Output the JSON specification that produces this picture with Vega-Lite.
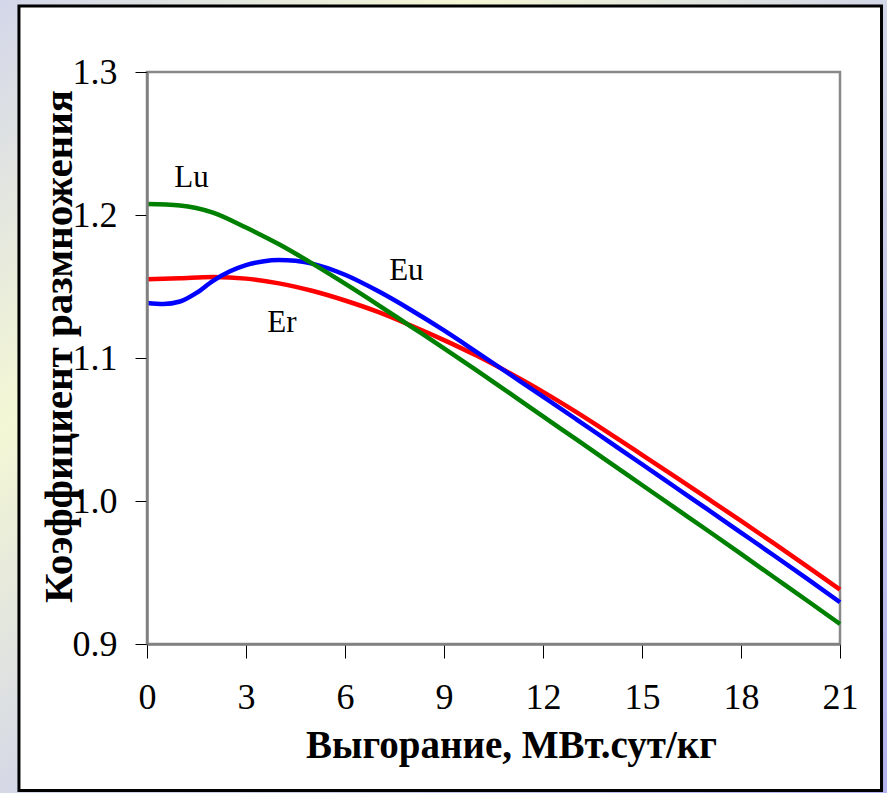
{
  "$schema": "https://vega.github.io/schema/vega-lite/v6.json",
  "width": 693,
  "height": 572,
  "autosize": {"type": "none"},
  "padding": {"left": 147, "top": 72, "right": 47, "bottom": 149},
  "background": "#dcdeea",
  "config": {
    "view": {"stroke": null},
    "font": "Liberation Serif",
    "axis": {
      "grid": false,
      "domainColor": "#808080",
      "domainWidth": 2.5,
      "tickColor": "#000000",
      "tickWidth": 1,
      "labelFont": "Liberation Serif",
      "labelFontSize": 36,
      "labelColor": "#000000",
      "titleFont": "Liberation Serif",
      "titleFontSize": 39,
      "titleFontWeight": "bold",
      "titleColor": "#000000"
    }
  },
  "datasets": {
    "curves": [
      {"series": "Er", "burnup": 0, "k": 1.1550},
      {"series": "Er", "burnup": 1, "k": 1.1558},
      {"series": "Er", "burnup": 2, "k": 1.1566},
      {"series": "Er", "burnup": 3, "k": 1.1555},
      {"series": "Er", "burnup": 4, "k": 1.1522},
      {"series": "Er", "burnup": 5, "k": 1.1470},
      {"series": "Er", "burnup": 6, "k": 1.1402},
      {"series": "Er", "burnup": 7, "k": 1.1322},
      {"series": "Er", "burnup": 8, "k": 1.1227},
      {"series": "Er", "burnup": 9, "k": 1.1125},
      {"series": "Er", "burnup": 10, "k": 1.1015},
      {"series": "Er", "burnup": 11, "k": 1.0893},
      {"series": "Er", "burnup": 12, "k": 1.0763},
      {"series": "Er", "burnup": 13, "k": 1.0623},
      {"series": "Er", "burnup": 14, "k": 1.0475},
      {"series": "Er", "burnup": 15, "k": 1.0323},
      {"series": "Er", "burnup": 16, "k": 1.0170},
      {"series": "Er", "burnup": 17, "k": 1.0016},
      {"series": "Er", "burnup": 18, "k": 0.9861},
      {"series": "Er", "burnup": 19, "k": 0.9703},
      {"series": "Er", "burnup": 20, "k": 0.9543},
      {"series": "Er", "burnup": 21, "k": 0.9380},
      {"series": "Eu", "burnup": 0, "k": 1.1385},
      {"series": "Eu", "burnup": 0.5, "k": 1.1378},
      {"series": "Eu", "burnup": 1, "k": 1.1395},
      {"series": "Eu", "burnup": 1.5, "k": 1.1455},
      {"series": "Eu", "burnup": 2, "k": 1.1540},
      {"series": "Eu", "burnup": 2.5, "k": 1.1605},
      {"series": "Eu", "burnup": 3, "k": 1.1650},
      {"series": "Eu", "burnup": 3.5, "k": 1.1675},
      {"series": "Eu", "burnup": 4, "k": 1.1685},
      {"series": "Eu", "burnup": 4.5, "k": 1.1680},
      {"series": "Eu", "burnup": 5, "k": 1.1660},
      {"series": "Eu", "burnup": 6, "k": 1.1582},
      {"series": "Eu", "burnup": 7, "k": 1.1468},
      {"series": "Eu", "burnup": 8, "k": 1.1336},
      {"series": "Eu", "burnup": 9, "k": 1.1193},
      {"series": "Eu", "burnup": 10, "k": 1.1040},
      {"series": "Eu", "burnup": 11, "k": 1.0885},
      {"series": "Eu", "burnup": 12, "k": 1.0730},
      {"series": "Eu", "burnup": 13, "k": 1.0573},
      {"series": "Eu", "burnup": 14, "k": 1.0415},
      {"series": "Eu", "burnup": 15, "k": 1.0257},
      {"series": "Eu", "burnup": 16, "k": 1.0098},
      {"series": "Eu", "burnup": 17, "k": 0.9939},
      {"series": "Eu", "burnup": 18, "k": 0.9779},
      {"series": "Eu", "burnup": 19, "k": 0.9619},
      {"series": "Eu", "burnup": 20, "k": 0.9457},
      {"series": "Eu", "burnup": 21, "k": 0.9292},
      {"series": "Lu", "burnup": 0, "k": 1.2077},
      {"series": "Lu", "burnup": 1, "k": 1.2067},
      {"series": "Lu", "burnup": 2, "k": 1.2017},
      {"series": "Lu", "burnup": 3, "k": 1.1912},
      {"series": "Lu", "burnup": 4, "k": 1.1795},
      {"series": "Lu", "burnup": 5, "k": 1.1662},
      {"series": "Lu", "burnup": 6, "k": 1.1520},
      {"series": "Lu", "burnup": 7, "k": 1.1372},
      {"series": "Lu", "burnup": 8, "k": 1.1220},
      {"series": "Lu", "burnup": 9, "k": 1.1068},
      {"series": "Lu", "burnup": 10, "k": 1.0912},
      {"series": "Lu", "burnup": 11, "k": 1.0752},
      {"series": "Lu", "burnup": 12, "k": 1.0592},
      {"series": "Lu", "burnup": 13, "k": 1.0432},
      {"series": "Lu", "burnup": 14, "k": 1.0272},
      {"series": "Lu", "burnup": 15, "k": 1.0112},
      {"series": "Lu", "burnup": 16, "k": 0.9952},
      {"series": "Lu", "burnup": 17, "k": 0.9792},
      {"series": "Lu", "burnup": 18, "k": 0.9630},
      {"series": "Lu", "burnup": 19, "k": 0.9467},
      {"series": "Lu", "burnup": 20, "k": 0.9304},
      {"series": "Lu", "burnup": 21, "k": 0.9140}
    ],
    "labels": [
      {"label": "Lu", "burnup": 1.35, "k": 1.2262},
      {"label": "Eu", "burnup": 7.86, "k": 1.1608},
      {"label": "Er", "burnup": 4.09, "k": 1.1248}
    ]
  },
  "layer": [
    {
      "data": {"values": [{}]},
      "mark": {
        "type": "rect",
        "fill": {
          "gradient": "linear",
          "x1": 0, "y1": 0, "x2": 1, "y2": 1,
          "stops": [
            {"offset": 0, "color": "#d2d5ea"},
            {"offset": 0.27, "color": "#f4f7d4"},
            {"offset": 0.5, "color": "#d4d7e6"},
            {"offset": 1, "color": "#b2b2ee"}
          ]
        }
      },
      "encoding": {
        "x": {"datum": -4.6, "type": "quantitative", "scale": {"domain": [0, 21], "nice": false, "zero": false}},
        "x2": {"datum": 22.6},
        "y": {"datum": 1.36, "type": "quantitative", "scale": {"domain": [0.9, 1.3], "nice": false, "zero": false}},
        "y2": {"datum": 0.78}
      }
    },
    {
      "data": {"values": [{}]},
      "mark": {"type": "rect", "fill": "#ffffff", "stroke": "#000000", "strokeWidth": 3},
      "encoding": {
        "x": {"datum": -3.88, "type": "quantitative", "scale": {"domain": [0, 21], "nice": false, "zero": false}},
        "x2": {"datum": 22.258},
        "y": {"datum": 1.3462, "type": "quantitative", "scale": {"domain": [0.9, 1.3], "nice": false, "zero": false}},
        "y2": {"datum": 0.79755}
      }
    },
    {
      "data": {"values": [{}]},
      "mark": {"type": "rect", "fill": null, "fillOpacity": 0, "stroke": "#888888", "strokeWidth": 2.5},
      "encoding": {
        "x": {"datum": 0, "type": "quantitative", "scale": {"domain": [0, 21], "nice": false, "zero": false}},
        "x2": {"datum": 21},
        "y": {"datum": 1.3, "type": "quantitative", "scale": {"domain": [0.9, 1.3], "nice": false, "zero": false}},
        "y2": {"datum": 0.9}
      }
    },
    {
      "data": {"name": "curves"},
      "mark": {"type": "line", "interpolate": "monotone", "strokeWidth": 4.5},
      "encoding": {
        "x": {
          "field": "burnup", "type": "quantitative",
          "scale": {"domain": [0, 21], "nice": false, "zero": false},
          "axis": {
            "zindex": 1,
            "values": [0, 3, 6, 9, 12, 15, 18, 21],
            "labelFont": "Liberation Serif", "labelFontSize": 36,
            "tickSize": 14, "labelPadding": 22, "labelFlush": false, "labelOverlap": false,
            "title": "Выгорание, МВт.сут/кг",
            "titleFont": "Liberation Serif", "titleFontSize": 39,
            "titleX": 364, "titleY": 113, "titleAlign": "center", "titleBaseline": "alphabetic"
          }
        },
        "y": {
          "field": "k", "type": "quantitative",
          "scale": {"domain": [0.9, 1.3], "nice": false, "zero": false},
          "axis": {
            "zindex": 1,
            "values": [0.9, 1.0, 1.1, 1.2, 1.3], "format": ".1f",
            "labelFont": "Liberation Serif", "labelFontSize": 36,
            "tickSize": 12, "labelPadding": 18, "labelFlush": false, "labelOverlap": false,
            "title": "Коэффициент размножения",
            "titleFont": "Liberation Serif", "titleFontSize": 41,
            "titleX": -88, "titleY": 274, "titleAngle": -90, "titleAlign": "center", "titleBaseline": "middle"
          }
        },
        "color": {
          "field": "series", "type": "nominal",
          "scale": {"domain": ["Er", "Eu", "Lu"], "range": ["#ff0000", "#0000ff", "#008000"]},
          "legend": null
        }
      }
    },
    {
      "data": {"name": "labels"},
      "mark": {"type": "text", "font": "Liberation Serif", "fontSize": 31, "align": "center", "baseline": "middle", "color": "#000000"},
      "encoding": {
        "x": {"field": "burnup", "type": "quantitative", "scale": {"domain": [0, 21], "nice": false, "zero": false}},
        "y": {"field": "k", "type": "quantitative", "scale": {"domain": [0.9, 1.3], "nice": false, "zero": false}},
        "text": {"field": "label"}
      }
    }
  ]
}
